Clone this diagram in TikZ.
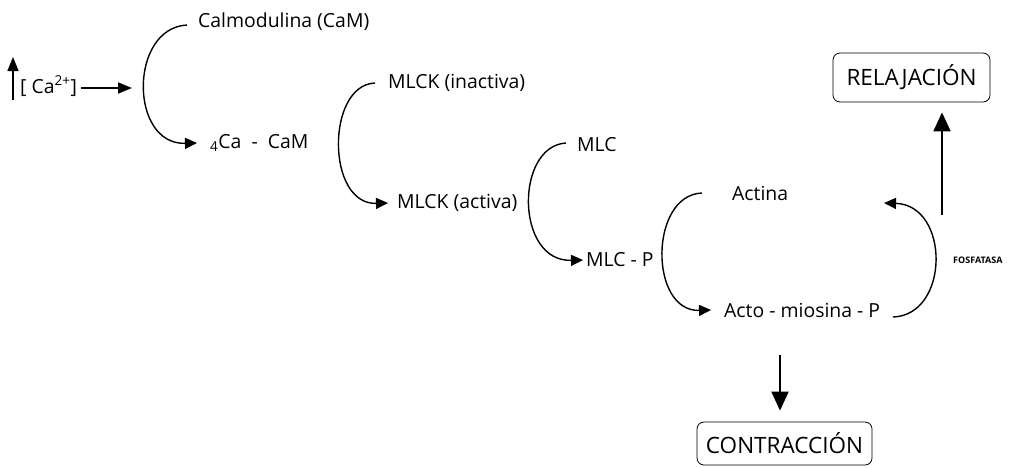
\documentclass[tikz,border=0pt]{standalone}
\usepackage{fontspec}
\setmainfont{Open Sans}
\usetikzlibrary{arrows.meta}
\begin{document}
\begin{tikzpicture}[x=1pt,y=-1pt,
  lbl/.style={anchor=west,inner sep=0pt,font=\fontsize{19.4}{22}\selectfont},
  boxlbl/.style={draw,rounded corners=7pt,line width=0.8pt,inner sep=0pt,font=\fontsize{22.5}{25}\selectfont},
  curv/.style={line width=1.4pt,-{Triangle[length=12pt,width=11pt]}},
  straightarr/.style={line width=1.6pt,-{Triangle[length=14pt,width=11pt]}},
  big/.style={line width=2pt,-{Triangle[length=19pt,width=17pt]}},
]
\useasboundingbox (0,0) rectangle (1032,467);
% labels
\node[lbl] (ca) at (20,86) {[ Ca\textsuperscript{2+}]};
\node[lbl] (calm) at (198,22) {Calmodulina (CaM)};
\node[lbl] (cacam) at (210,143) {\textsubscript{4}Ca\ \ -\ \ CaM};
\node[lbl] (mlcki) at (388,83) {MLCK (inactiva)};
\node[lbl] (mlcka) at (397,203) {MLCK (activa)};
\node[lbl] (mlc) at (577,145) {MLC};
\node[lbl] (mlcp) at (586,260) {MLC - P};
\node[lbl] (actina) at (732,193) {Actina};
\node[lbl] (acto) at (724,310) {Acto - miosina - P};
\node[anchor=west,inner sep=0pt,font=\fontsize{9}{10}\selectfont\bfseries] (fos) at (953,260) {FOSFATASA};
\node[boxlbl,minimum width=157pt,minimum height=49pt] (relaj) at (911.5,77.5) {RELAJACIÓN};
\node[boxlbl,minimum width=175pt,minimum height=43pt] (contr) at (784.5,443.5) {CONTRACCIÓN};
% free ends
\coordinate (upB) at (13,100);
\coordinate (upT) at (13,57);
\coordinate (caT) at (132,88);
\coordinate (fosS) at (893,317);
\coordinate (fosE) at (884,203);
\coordinate (dA) at (780,355);
\coordinate (uA) at (942,215);
% connectors
\draw[straightarr] (upB) -- (upT);
\draw[straightarr] ([shift={(4,2)}]ca.east) -- (caT);
\draw[curv] ([shift={(-11,3)}]calm.west) .. controls +(-58,3) and +(-68,2) .. ([xshift=-13pt]cacam.west);
\draw[curv] ([shift={(-13,0)}]mlcki.west) .. controls +(-49,2) and +(-62,2) .. ([xshift=-9pt]mlcka.west);
\draw[curv] ([shift={(-11,-2)}]mlc.west) .. controls +(-51,3) and +(-68,2) .. ([xshift=-3pt]mlcp.west);
\draw[curv] ([xshift=-30pt]actina.west) .. controls +(-53,2) and +(-62,2) .. ([xshift=-13pt]acto.west);
\draw[curv] (fosS) .. controls +(57,-2) and +(66,2) .. (fosE);
\draw[big,shorten >=11pt] (dA) -- (dA |- contr.north);
\draw[big,shorten >=10pt] (uA) -- (uA |- relaj.south);
\end{tikzpicture}
\end{document}
